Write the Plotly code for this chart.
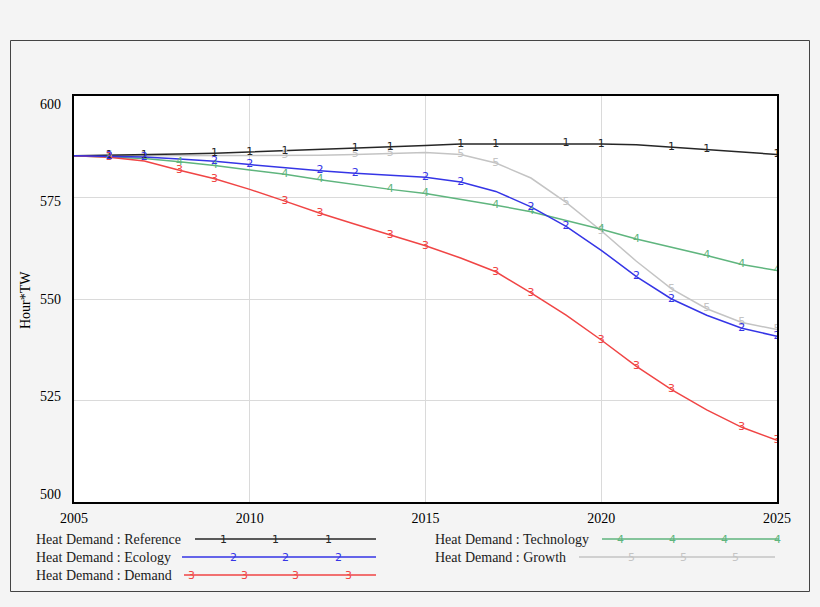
import plotly.graph_objects as go

years = list(range(2005, 2026))

reference = [585.3, 585.4, 585.5, 585.7, 585.9, 586.2, 586.5, 586.8, 587.1, 587.5, 587.8,
             588.2, 588.2, 588.3, 588.3, 588.2, 588.0, 587.4, 586.9, 586.3, 585.6]
ecology = [585.3, 585.2, 585.0, 584.5, 583.9, 583.1, 582.3, 581.6, 581.0, 580.5, 580.0,
           578.8, 576.5, 572.7, 567.9, 562.0, 555.5, 550.0, 546.0, 542.8, 540.8]
demand = [585.3, 584.9, 584.0, 581.7, 579.6, 577.0, 574.1, 571.1, 568.4, 565.8, 563.1,
          560.1, 556.7, 551.5, 546.0, 539.9, 533.4, 527.7, 522.7, 518.4, 515.2]
technology = [585.3, 585.0, 584.6, 583.8, 582.9, 581.8, 580.7, 579.4, 578.2, 577.0, 576.0,
              574.6, 573.1, 571.5, 569.4, 567.2, 564.8, 562.8, 560.7, 558.5, 557.0]
growth = [585.3, 585.3, 585.3, 585.3, 585.3, 585.3, 585.3, 585.4, 585.6, 585.8, 586.1,
          585.6, 583.5, 579.8, 573.8, 566.8, 559.3, 552.5, 547.6, 544.2, 542.5]

marker_years = {
    "1": [2006, 2007, 2009, 2010, 2011, 2013, 2014, 2016, 2017, 2019, 2020, 2022, 2023, 2025],
    "2": [2006, 2007, 2009, 2010, 2012, 2013, 2015, 2016, 2018, 2019, 2021, 2022, 2024, 2025],
    "3": [2006, 2008, 2009, 2011, 2012, 2014, 2015, 2017, 2018, 2020, 2021, 2022, 2024, 2025],
    "4": [2006, 2008, 2009, 2011, 2012, 2014, 2015, 2017, 2018, 2020, 2021, 2023, 2024, 2025],
    "5": [2006, 2011, 2013, 2014, 2016, 2017, 2019, 2020, 2022, 2023, 2024, 2025],
}

series_names = ["Heat Demand : Reference", "Heat Demand : Ecology", "Heat Demand : Demand",
                "Heat Demand : Technology", "Heat Demand : Growth"]
series_values = [reference, ecology, demand, technology, growth]
series_ids = ["1", "2", "3", "4", "5"]
colors = ["#262626", "#3535e6", "#f04545", "#5fb57e", "#c4c4c4"]

x_ticks = [2005, 2010, 2015, 2020, 2025]
y_ticks = [500, 525, 550, 575, 600]
y_title = "Hour*TW"

# plot-area pixel geometry
L, R, T, B = 74, 777, 96, 502
W, H = 820, 607


def px(x):
    return (x - L) / (R - L)


def py(y):
    return 1 - (y - T) / (B - T)


fig = go.Figure()
order = [4, 3, 0, 2, 1]
for i in order:
    vals = series_values[i]
    fig.add_trace(go.Scatter(x=years, y=vals, mode="lines",
                             line=dict(color=colors[i], width=1.5),
                             showlegend=False, hoverinfo="skip"))
for i in order:
    vals = series_values[i]
    my = marker_years[series_ids[i]]
    fig.add_trace(go.Scatter(x=my, y=[vals[years.index(yr)] for yr in my], mode="text",
                             text=[series_ids[i]] * len(my), textposition="middle center",
                             textfont=dict(color=colors[i], size=11, family="DejaVu Sans"),
                             showlegend=False, hoverinfo="skip"))

shapes = []
annotations = []
# outer frame
shapes.append(dict(type="rect", xref="paper", yref="paper",
                   x0=px(10.5), x1=px(809.5), y0=py(40.5), y1=py(591.5),
                   line=dict(color="#444444", width=1), layer="below"))

serif = "Liberation Serif"
# y title
annotations.append(dict(text=y_title, xref="paper", yref="paper", x=px(25), y=py(300),
                        xanchor="center", yanchor="middle",
                        showarrow=False, textangle=-90,
                        font=dict(family=serif, size=14, color="black")))

# y tick labels (Vensim-style slight inset from the frame edges)
for v in y_ticks:
    annotations.append(dict(text=str(v), xref="paper", yref="y", x=px(63), y=v,
                            xanchor="right", yanchor="middle", showarrow=False,
                            yshift=-(8 - (600 - v) * 0.16),
                            font=dict(family=serif, size=14, color="black")))

# legend layout (pixel positions)
leg = [
    (34, 539, 195, 376, [223, 275, 328]),
    (34, 557, 182, 376, [233, 285, 338]),
    (34, 575, 184, 376, [191, 244, 295, 348]),
    (433, 539, 602, 779, [620, 672, 724, 777]),
    (433, 557, 579, 775, [631, 683, 735]),
]
for i, (tx, ty, lx0, lx1, mks) in enumerate(leg):
    annotations.append(dict(text=series_names[i], xref="paper", yref="paper",
                            x=px(tx), y=py(ty), xanchor="left", yanchor="middle",
                            showarrow=False, font=dict(family=serif, size=14, color="#1a1a1a")))
    shapes.append(dict(type="line", xref="paper", yref="paper",
                       x0=px(lx0), x1=px(lx1), y0=py(ty), y1=py(ty),
                       line=dict(color=colors[i], width=1.5)))
    for m in mks:
        annotations.append(dict(text=series_ids[i], xref="paper", yref="paper",
                                x=px(m), y=py(ty), xanchor="center", yanchor="middle",
                                showarrow=False,
                                font=dict(family="DejaVu Sans", size=11, color=colors[i])))

fig.update_layout(
    width=W, height=H,
    margin=dict(l=L, r=W - R, t=T, b=H - B, pad=0),
    paper_bgcolor="#f4f4f4",
    plot_bgcolor="white",
    shapes=shapes,
    annotations=annotations,
    showlegend=False,
)
fig.update_xaxes(range=[2005, 2025], tickvals=x_ticks, ticktext=[str(v) for v in x_ticks],
                 showgrid=True, gridcolor="#dadada", gridwidth=1,
                 showline=True, mirror=True, linecolor="black", linewidth=2,
                 ticks="", zeroline=False, ticklabelstandoff=2,
                 tickfont=dict(family=serif, size=14, color="black"))
fig.update_yaxes(range=[500, 600], tickvals=y_ticks, showticklabels=False,
                 showgrid=True, gridcolor="#dadada", gridwidth=1,
                 showline=True, mirror=True, linecolor="black", linewidth=2,
                 ticks="", zeroline=False)

fig.write_html("out.html")
